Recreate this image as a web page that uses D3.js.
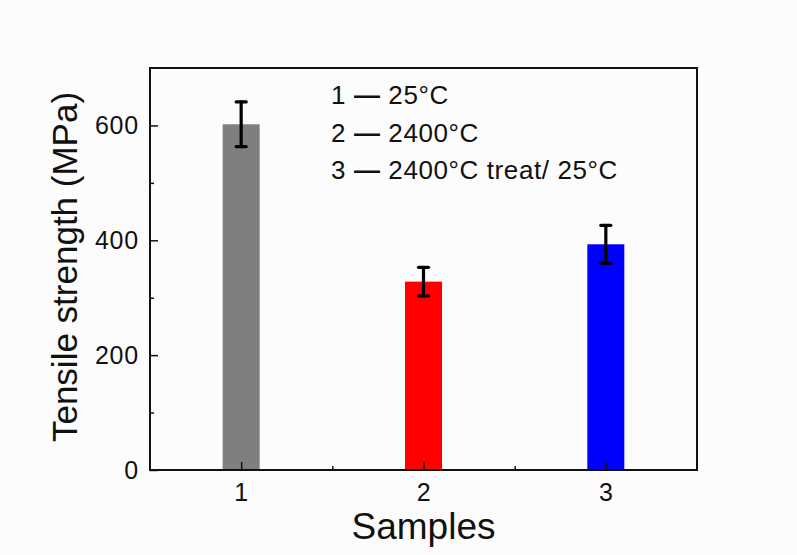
<!DOCTYPE html>
<html><head><meta charset="utf-8">
<script src="https://cdn.jsdelivr.net/npm/d3@7"></script>
<style>body{margin:0;background:#fcfcfc;}svg{display:block;font-family:"Liberation Sans",Arial,sans-serif;}</style>
</head><body>
<script>
const samples = [1, 2, 3];
const strength = [602, 328, 393];
const errors = [39, 25, 33];
const barColors = ["#7f7f7f", "#ff0000", "#0000ff"];
const yTicks = [0, 200, 400, 600];
const yMinor = [100, 300, 500];
const xMinor = [1.5, 2.5];
const legendNums = ["1", "2", "3"];
const legendLabels = ["25\u00B0C", "2400\u00B0C", "2400\u00B0C treat/ 25\u00B0C"];

const W = 797, H = 555;
const m = {left: 150, right: 100, top: 68, bottom: 85};
const svg = d3.select("body").append("svg").attr("width", W).attr("height", H);
svg.append("rect").attr("width", W).attr("height", H).attr("fill", "#fcfcfc");

const x = d3.scaleLinear().domain([0.5, 3.5]).range([m.left, W - m.right]);
const y = d3.scaleLinear().domain([0, 700]).range([H - m.bottom, m.top]);
const bw = 37;

// bars
svg.selectAll("rect.bar").data(samples).enter().append("rect")
  .attr("x", (d) => x(d) - bw / 2).attr("width", bw)
  .attr("y", (d, i) => y(strength[i])).attr("height", (d, i) => y(0) - y(strength[i]))
  .attr("fill", (d, i) => barColors[i]);

// error bars
const eb = svg.append("g").attr("stroke", "#000").attr("stroke-width", 3.2).attr("stroke-linecap", "round");
samples.forEach((d, i) => {
  eb.append("line").attr("x1", x(d)).attr("x2", x(d)).attr("y1", y(strength[i] - errors[i])).attr("y2", y(strength[i] + errors[i]));
  [strength[i] - errors[i], strength[i] + errors[i]].forEach(v => {
    eb.append("line").attr("x1", x(d) - 5).attr("x2", x(d) + 5).attr("y1", y(v)).attr("y2", y(v));
  });
});

// axes
const fs = 25;
const yAxis = svg.append("g").attr("transform", `translate(${m.left},0)`)
  .call(d3.axisLeft(y).tickValues(yTicks).tickSizeInner(-8).tickSizeOuter(0).tickPadding(11));
const yAxisMinor = svg.append("g").attr("transform", `translate(${m.left},0)`)
  .call(d3.axisLeft(y).tickValues(yMinor).tickSizeInner(-4).tickSizeOuter(0).tickFormat(""));
const xAxis = svg.append("g").attr("transform", `translate(0,${y(0)})`)
  .call(d3.axisBottom(x).tickValues(samples).tickSizeInner(-8).tickSizeOuter(0).tickPadding(13).tickFormat(d3.format("d")));
const xAxisMinor = svg.append("g").attr("transform", `translate(0,${y(0)})`)
  .call(d3.axisBottom(x).tickValues(xMinor).tickSizeInner(-4).tickSizeOuter(0).tickFormat(""));
[yAxis, yAxisMinor, xAxis, xAxisMinor].forEach(g => {
  g.attr("font-size", fs).attr("font-family", "Liberation Sans, Arial, sans-serif");
  g.select(".domain").remove();
  g.selectAll("line").attr("stroke", "#111").attr("stroke-width", 1.5);
  g.selectAll("text").attr("fill", "#111").attr("letter-spacing", 0.8);
});

// frame
svg.append("rect").attr("x", m.left).attr("y", m.top)
  .attr("width", W - m.left - m.right).attr("height", H - m.top - m.bottom)
  .attr("fill", "none").attr("stroke", "#111").attr("stroke-width", 2);

// titles
svg.append("text").attr("x", x(2)).attr("y", 539).attr("text-anchor", "middle")
  .attr("font-size", 37).attr("fill", "#111").text("Samples");
svg.append("text").attr("transform", `translate(77,267) rotate(-90)`)
  .attr("text-anchor", "middle").attr("font-size", 35).attr("fill", "#111").text("Tensile strength (MPa)");

// legend
const lg = svg.append("g");
legendNums.forEach((n, i) => {
  const t = lg.append("text").attr("x", 331).attr("y", 104 + i * 37.5)
    .attr("font-size", 26).attr("fill", "#111").attr("letter-spacing", 0.6);
  t.append("tspan").text(n + " ");
  t.append("tspan").attr("font-weight", "bold").text("\u2014");
  t.append("tspan").text(" " + legendLabels[i]);
});
</script>
</body></html>
